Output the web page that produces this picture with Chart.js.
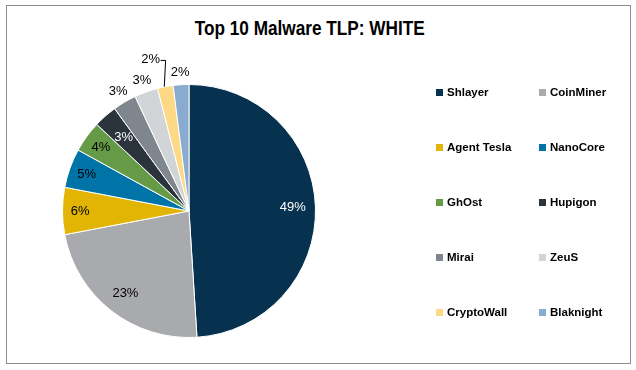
<!DOCTYPE html>
<html>
<head>
<meta charset="utf-8">
<script src="https://cdn.jsdelivr.net/npm/chart.js@4.4.1/dist/chart.umd.min.js"></script>
<style>
  html, body { margin: 0; padding: 0; background: #fff; }
  #wrap { position: relative; width: 636px; height: 370px; overflow: hidden; }
  #frame { position: absolute; left: 6px; top: 5px; width: 623px; height: 357px; border: 1px solid #8c8c8c; }
  #title { position: absolute; left: 0; width: 620px; top: 17px; text-align: center;
    font: bold 20px "Liberation Sans", Arial, sans-serif; color: #000; }
  #title span { display: inline-block; transform: scaleX(0.86); }
  canvas { position: absolute; left: 0; top: 0; }
  #legend { position: absolute; left: 436px; top: 86px; width: 200px; }
  .item { position: absolute; font: bold 11.5px "Liberation Sans", Arial, sans-serif; color: #000; white-space: nowrap; }
  .item i { display: inline-block; width: 7px; height: 7px; margin-right: 4px; vertical-align: 0px; }
</style>
</head>
<body>
<div id="wrap">
  <div id="frame"></div>
  <div id="title"><span>Top 10 Malware TLP: WHITE</span></div>
  <canvas id="malwarePie" width="636" height="370"></canvas>
  <div id="legend"></div>
</div>
<script>
const labels = ['Shlayer', 'CoinMiner', 'Agent Tesla', 'NanoCore', 'GhOst', 'Hupigon', 'Mirai', 'ZeuS', 'CryptoWall', 'Blaknight'];
const shares = [49, 23, 6, 5, 4, 3, 3, 3, 2, 2];
const colors = ['#06324f', '#a9aaad', '#e2b404', '#0174a7', '#659a47', '#2b343c', '#7f868e', '#d2d5d8', '#fdd986', '#88abcf'];

// labels on dark slices are white; small slices at the top are labelled outside
const whiteText = [0, 5];
const outside = [6, 7, 8, 9];

const pctLabels = {
  id: 'pctLabels',
  afterDatasetsDraw(chart) {
    const ctx = chart.ctx;
    const meta = chart.getDatasetMeta(0);
    ctx.save();
    ctx.font = '13px "Liberation Sans", Arial, sans-serif';
    ctx.textAlign = 'center';
    ctx.textBaseline = 'middle';
    meta.data.forEach((arc, i) => {
      const mid = (arc.startAngle + arc.endAngle) / 2;
      const r = arc.outerRadius;
      let f = 0.86;
      if (i === 0 || i === 1) f = 0.82;
      if (i === 5) f = 0.78;
      if (outside.includes(i)) f = 1.1;
      if (i === 8) f = 1.24;
      const x = arc.x + Math.cos(mid) * r * f;
      const y = arc.y + Math.sin(mid) * r * f;
      let lx = x, ly = y;
      if (i === 8) {
        lx = x - 9;
        ly = y + 3;
        ctx.strokeStyle = '#000';
        ctx.lineWidth = 1;
        ctx.beginPath();
        const ex = arc.x + Math.cos(mid) * r;
        const ey = arc.y + Math.sin(mid) * r;
        ctx.moveTo(lx + 10, ly + 0.5);
        ctx.lineTo(lx + 15, ly + 0.5);
        ctx.lineTo(ex - 1, ey);
        ctx.stroke();
      }
      ctx.fillStyle = whiteText.includes(i) ? '#fff' : '#000';
      ctx.fillText(shares[i] + '%', lx, ly);
    });
    ctx.restore();
  }
};

new Chart(document.getElementById('malwarePie'), {
  type: 'pie',
  data: {
    labels: labels,
    datasets: [{
      data: shares,
      backgroundColor: colors,
      borderColor: '#fff',
      borderWidth: 1,
    }],
  },
  options: {
    responsive: false,
    animation: false,
    layout: { padding: { left: 62, right: 320, top: 84, bottom: 32 } },
    plugins: {
      legend: { display: false },
      tooltip: { enabled: false },
    },
  },
  plugins: [pctLabels],
});

// two-column legend
const legend = document.getElementById('legend');
labels.forEach((name, i) => {
  const el = document.createElement('div');
  el.className = 'item';
  el.style.left = (i % 2 ? 103 : 0) + 'px';
  el.style.top = (Math.floor(i / 2) * 55) + 'px';
  el.innerHTML = '<i style="background:' + colors[i] + '"></i>' + name;
  legend.appendChild(el);
});
</script>
</body>
</html>
